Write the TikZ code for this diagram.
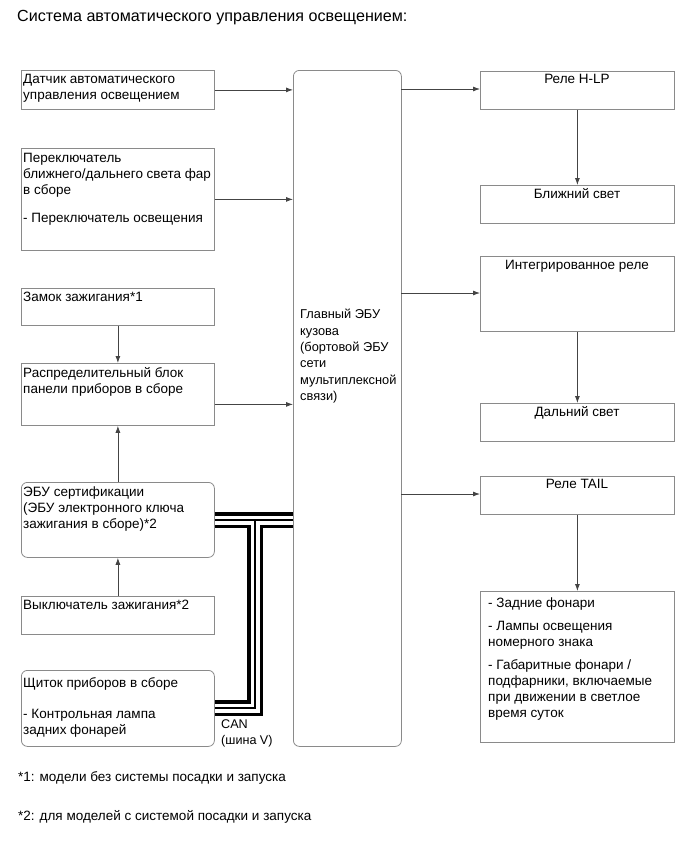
\documentclass[tikz,border=0pt]{standalone}
\usepackage{fontspec}
\setmainfont{Liberation Sans}
\usetikzlibrary{arrows.meta}
\definecolor{boxgray}{HTML}{8A8A8A}
\definecolor{linegray}{HTML}{444444}
\newcommand\fsz{\fontsize{13.5}{16}\selectfont}
\newcommand\fecu{\fontsize{12.8}{16.4}\selectfont}
\newcommand\fttl{\fontsize{16.1}{19}\selectfont}
\newcommand\fcan{\fontsize{12.6}{16}\selectfont}
\begin{document}
\begin{tikzpicture}[x=1pt,y=-1pt,
  box/.style={draw=boxgray, line width=0.8pt, inner sep=0pt, anchor=north west, minimum width=193pt},
  rbox/.style={box, rounded corners=6pt},
  txt/.style={inner sep=0pt, anchor=north west, align=left, font=\fsz},
  ctxt/.style={inner sep=0pt, anchor=north, align=center, font=\fsz},
  arr/.style={draw=linegray, line width=0.8pt, -{Latex[length=7pt,width=5pt]}}]
\useasboundingbox (0,0) rectangle (690,855);

% title
\node[txt, font=\fttl] (title) at (17,10) {Система автоматического управления освещением:};

% left column
\node[box, minimum height=39pt] (b1) at (21,70) {};
\node[txt] (t1) at (23,74) {Датчик автоматического\\управления освещением};
\node[box, minimum height=102pt] (b2) at (21,148) {};
\node[txt] (t2) at (23,153) {Переключатель\\ближнего/дальнего света фар\\в сборе\\[12pt]- Переключатель освещения};
\node[box, minimum height=37pt] (b3) at (21,288) {};
\node[txt] (t3) at (23,292) {Замок зажигания*1};
\node[box, minimum height=62pt] (b4) at (21,363) {};
\node[txt] (t4) at (23,367) {Распределительный блок\\панели приборов в сборе};
\node[rbox, minimum height=75pt] (b5) at (21,482) {};
\node[txt] (t5) at (23,487) {ЭБУ сертификации\\(ЭБУ электронного ключа\\зажигания в сборе)*2};
\node[box, minimum height=38pt] (b6) at (21,596) {};
\node[txt] (t6) at (23,600) {Выключатель зажигания*2};
\node[rbox, minimum height=76pt] (b7) at (21,670) {};
\node[txt] (t7) at (23,677) {Щиток приборов в сборе\\[15pt]- Контрольная лампа\\задних фонарей};

% central ECU
\node[rbox, minimum width=108pt, minimum height=676pt] (ecu) at (293,70) {};
\node[txt, font=\fecu] (tecu) at (300,309) {Главный ЭБУ\\кузова\\(бортовой ЭБУ\\сети\\мультиплексной\\связи)};

% right column
\node[box, minimum width=194pt, minimum height=38pt] (r1) at (480,71) {};
\node[ctxt] (tr1) at (577,74) {Реле H-LP};
\node[box, minimum width=194pt, minimum height=38pt] (r2) at (480,185) {};
\node[ctxt] (tr2) at (577,188) {Ближний свет};
\node[box, minimum width=194pt, minimum height=75pt] (r3) at (480,256) {};
\node[ctxt] (tr3) at (577,260) {Интегрированное реле};
\node[box, minimum width=194pt, minimum height=38pt] (r4) at (480,403) {};
\node[ctxt] (tr4) at (577,406) {Дальний свет};
\node[box, minimum width=194pt, minimum height=38pt] (r5) at (480,476) {};
\node[ctxt] (tr5) at (577,479) {Реле TAIL};
\node[box, minimum width=194pt, minimum height=151pt] (r6) at (480,591) {};
\node[txt] (tr6) at (488,598) {- Задние фонари\\[7pt]- Лампы освещения\\номерного знака\\[7pt]- Габаритные фонари /\\подфарники, включаемые\\при движении в светлое\\время суток};

% arrows into ECU
\draw[arr] (b1.east) -- (b1.east -| ecu.west);
\draw[arr] (b2.east) -- (b2.east -| ecu.west);
\draw[arr] (b4.east) ++(0,10) coordinate (b4a) -- (b4a -| ecu.west);
% left vertical arrows
\draw[arr] (b3.south) -- (b4.north);
\draw[arr] (b5.north) -- (b4.south);
\draw[arr] (b6.north) -- (b5.south);
% ECU to right
\coordinate (e1) at (401,89);
\coordinate (e3) at (401,293);
\coordinate (e5) at (401,494);
\draw[arr] (e1) -- (e1 -| r1.west);
\draw[arr] (e3) -- (e3 -| r3.west);
\draw[arr] (e5) -- (e5 -| r5.west);
\draw[arr] (r1.south) -- (r2.north);
\draw[arr] (r3.south) -- (r4.north);
\draw[arr] (r5.south) -- (r6.north);

% CAN bus
\coordinate (j) at (255,520);
\coordinate (c) at (255,708);
\foreach \w/\c in {16pt/black, 9pt/white, 1.2pt/black}{
  \draw[line width=\w, draw=\c] (b5.east |- j) -- (ecu.west |- j);
  \draw[line width=\w, draw=\c] (j) -- (c) -- (b7.east |- c);
}
\node[txt, font=\fcan] (can) at (221,719) {CAN\\(шина V)};

% footnotes
\node[txt] (f1) at (18,771) {*1: модели без системы посадки и запуска};
\node[txt] (f2) at (18,810) {*2: для моделей с системой посадки и запуска};
\end{tikzpicture}
\end{document}
